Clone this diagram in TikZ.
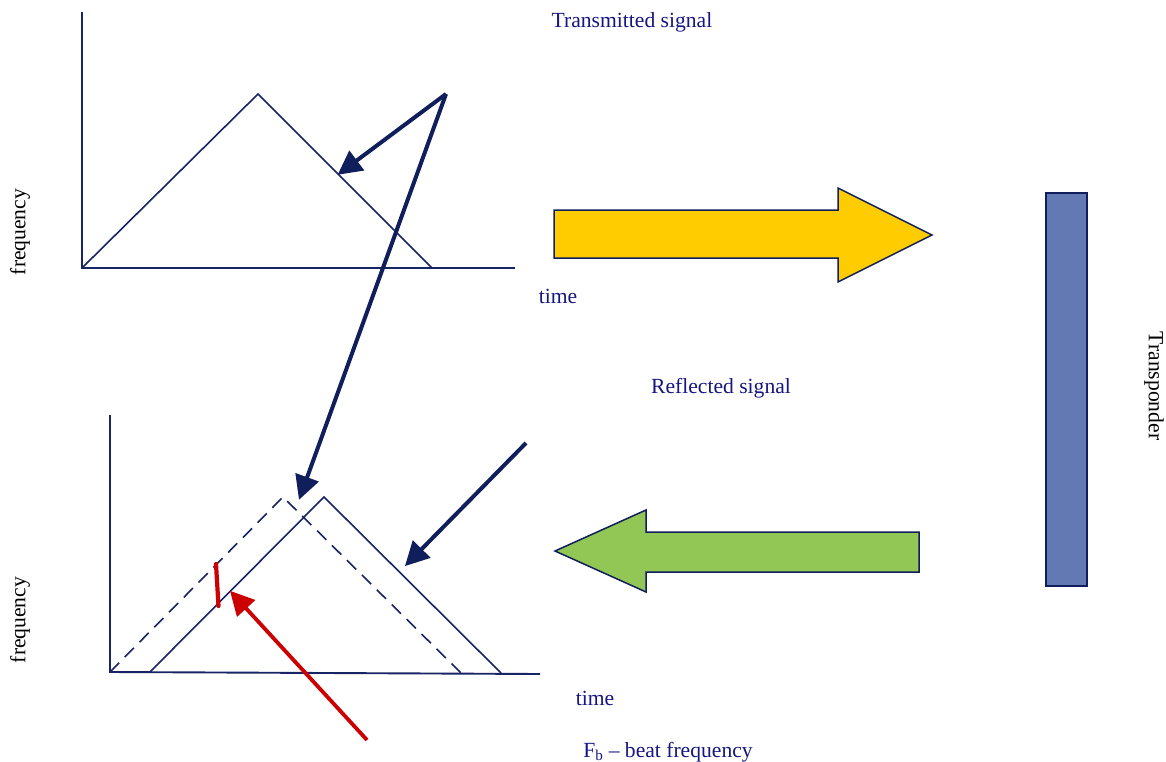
\documentclass[tikz,border=0pt]{standalone}
\usepackage{fontspec}
\setmainfont{Liberation Serif}
\usetikzlibrary{arrows.meta}
\definecolor{navy}{RGB}{16,30,92}
\definecolor{axisc}{RGB}{24,36,100}
\definecolor{txt}{RGB}{22,22,128}
\definecolor{yel}{RGB}{255,204,0}
\definecolor{grn}{RGB}{146,199,85}
\definecolor{trn}{RGB}{99,121,180}
\definecolor{redc}{RGB}{204,0,0}
\tikzset{
  axis/.style={draw=axisc, line width=1.9pt},
  sig/.style={draw=axisc, line width=1.6pt},
  pointer/.style={draw=navy, line width=4pt, -{Triangle[length=24pt,width=24pt]}, shorten >=-3pt},
  redpointer/.style={draw=redc, line width=3.8pt, -{Triangle[length=24pt,width=24pt]}, shorten >=-3pt},
  lbl/.style={text=txt, font=\fontsize{21.6}{24}\selectfont, inner sep=0pt},
  blbl/.style={text=black, font=\fontsize{21.6}{24}\selectfont, inner sep=0pt},
  blockarrow/.style={draw=navy, line width=1.5pt, line join=miter},
}
\begin{document}
\begin{tikzpicture}[x=1pt,y=-1pt]
\useasboundingbox (0,0) rectangle (1166,762);
% top chart
\coordinate (t0) at (82,268);
\draw[axis] (82,12) -- (t0) -- (515,268);
\draw[sig] (t0) -- (258,94) -- (432,268);
% bottom chart
\coordinate (b0) at (110,672);
\draw[axis] (110,415) -- (b0) -- (540,674);
\draw[sig, dash pattern=on 13pt off 8pt] (b0) -- (283,497) -- (461,673);
\draw[sig] (150,672) -- (324,497) -- (501,673);
% pointers
\coordinate (p0) at (446,94);
\coordinate (p1) at (340,173);
\coordinate (p2) at (300,497);
\draw[pointer] (p0) -- (p1);
\draw[pointer] (p0) -- (p2);
\coordinate (q0) at (526,443);
\coordinate (q1) at (407,564);
\draw[pointer] (q0) -- (q1);
% red beat marker
\coordinate (r0) at (216,564);
\coordinate (r1) at (218.5,606);
\draw[draw=redc, line width=4.2pt, line cap=round] (r0) -- (r1);
\coordinate (s0) at (367,740);
\coordinate (s1) at (232,593);
\draw[redpointer] (s0) -- (s1);
% block arrows
\draw[blockarrow, fill=yel] (554,210) -- (838,210) -- (838,188) -- (932,235) -- (838,282) -- (838,258) -- (554,258) -- cycle;
\draw[blockarrow, fill=grn] (919,532) -- (646,532) -- (646,510) -- (555,551) -- (646,592) -- (646,572) -- (919,572) -- cycle;
% transponder
\draw[draw=navy, line width=1.5pt, fill=trn] (1046,193) rectangle (1087,586);
% labels
\node[lbl] (l1) at (632,22) {Transmitted signal};
\node[blbl, rotate=90] (l2) at (20,232) {frequency};
\node[lbl] (l3) at (558,296) {time};
\node[lbl] (l4) at (721,388) {Reflected signal};
\node[blbl, rotate=90] (l5) at (20,620) {frequency};
\node[lbl] (l6) at (595,698) {time};
\node[lbl] (l7) at (668,752) {F\textsubscript{b} – beat frequency};
\node[blbl, rotate=-90] (l8) at (1154,386) {Transponder};
\end{tikzpicture}
\end{document}
